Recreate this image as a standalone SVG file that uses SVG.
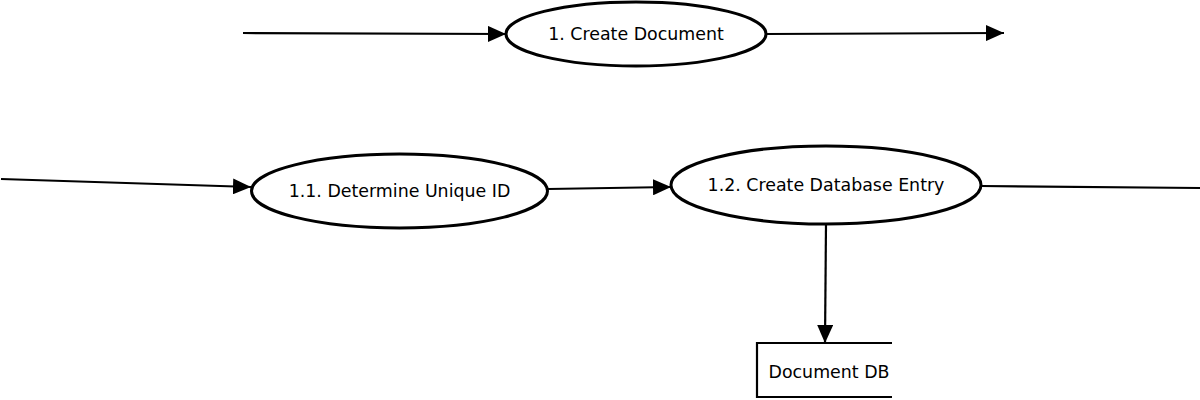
<svg xmlns="http://www.w3.org/2000/svg" width="1200" height="400" viewBox="0 0 1200 400">
<style>
.node{fill:#fff;stroke:#000;stroke-width:3}
.lbl{font-family:"DejaVu Sans",sans-serif;font-size:17.4px;fill:#000;text-anchor:middle;dominant-baseline:central}
.edge{stroke:#000;stroke-width:2.2;fill:none}
.store{stroke:#000;stroke-width:2.2;fill:none}
</style>
<defs>
<marker id="arr" markerWidth="18" markerHeight="16" refX="18" refY="8" orient="auto" markerUnits="userSpaceOnUse">
<path d="M0,0 L18,8 L0,16 Z" fill="#000"/>
</marker>
</defs>
<rect width="1200" height="400" fill="#fff"/>
<g id="connectors">
<line class="edge" x1="243" y1="33" x2="506" y2="34" marker-end="url(#arr)"/>
<line class="edge" x1="766" y1="34" x2="1004" y2="33" marker-end="url(#arr)"/>
<line class="edge" x1="1" y1="179" x2="251" y2="187" marker-end="url(#arr)"/>
<line class="edge" x1="548" y1="189" x2="671" y2="187" marker-end="url(#arr)"/>
<line class="edge" x1="981" y1="186" x2="1200" y2="188"/>
<line class="edge" x1="826" y1="224" x2="825" y2="343" marker-end="url(#arr)"/>
</g>
<g id="n1">
<ellipse class="node" cx="636" cy="34" rx="130" ry="32"/>
<text class="lbl" x="636" y="34">1. Create Document</text>
</g>
<g id="n11">
<ellipse class="node" cx="399.5" cy="191" rx="148" ry="37"/>
<text class="lbl" x="399.5" y="191">1.1. Determine Unique ID</text>
</g>
<g id="n12">
<ellipse class="node" cx="826" cy="185" rx="155" ry="39"/>
<text class="lbl" x="826" y="185">1.2. Create Database Entry</text>
</g>
<g id="store">
<path class="store" d="M892,343 L757,343 L757,397 L892,397"/>
<text class="lbl" x="829" y="372">Document DB</text>
</g>
</svg>
